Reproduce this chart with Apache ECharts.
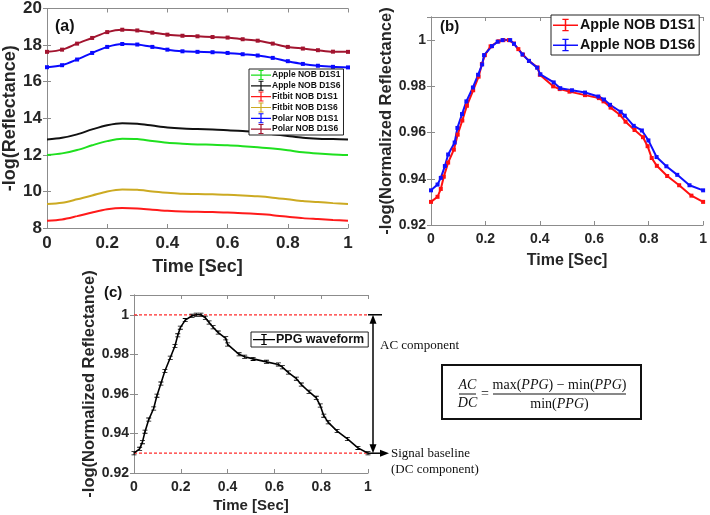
<!DOCTYPE html>
<html><head><meta charset="utf-8">
<script src="https://cdn.jsdelivr.net/npm/echarts/dist/echarts.min.js"></script>
<style>html,body{margin:0;padding:0;background:#fff}#c{width:710px;height:515px}</style>
</head><body><div id="c"></div>
<script>
// ---------- Panel (a) data ----------
var timeA = [0,0.05,0.1,0.15,0.2,0.25,0.3,0.35,0.4,0.45,0.5,0.55,0.6,0.65,0.7,0.75,0.8,0.85,0.9,0.95,1];
var appleD1S1 = [11.99,12.08,12.26,12.52,12.75,12.88,12.86,12.75,12.66,12.61,12.57,12.55,12.52,12.47,12.41,12.34,12.25,12.14,12.07,12.02,11.99];
var appleD1S6 = [12.84,12.93,13.12,13.39,13.62,13.73,13.70,13.60,13.50,13.44,13.41,13.38,13.35,13.30,13.24,13.13,13.03,12.93,12.88,12.86,12.84];
var fitbitD1S1 = [8.40,8.47,8.65,8.85,9.02,9.09,9.07,9.00,8.94,8.90,8.89,8.87,8.85,8.81,8.76,8.70,8.62,8.54,8.49,8.44,8.40];
var fitbitD1S6 = [9.31,9.38,9.57,9.78,10.00,10.11,10.09,10.00,9.93,9.87,9.86,9.84,9.82,9.78,9.73,9.66,9.57,9.47,9.42,9.36,9.31];
var polarD1S1 = [16.79,16.90,17.21,17.57,17.90,18.06,18.03,17.90,17.75,17.66,17.63,17.61,17.57,17.50,17.43,17.30,17.12,16.97,16.87,16.81,16.78];
var polarD1S6 = [17.63,17.75,18.08,18.39,18.71,18.84,18.80,18.68,18.57,18.51,18.48,18.44,18.41,18.32,18.24,18.08,17.90,17.81,17.72,17.64,17.63];

// ---------- Panel (b)/(c) data (normalized) ----------
var timeS1 = [0,0.024,0.036,0.047,0.063,0.084,0.098,0.115,0.132,0.155,0.175,0.187,0.198,0.219,0.248,0.266,0.286,0.305,0.321,0.338,0.360,0.392,0.400,0.449,0.473,0.509,0.566,0.617,0.634,0.660,0.694,0.715,0.748,0.779,0.796,0.811,0.830,0.868,0.912,0.957,1.0];
var normS1 = [0.930,0.9322,0.9356,0.9409,0.947,0.9526,0.9591,0.9652,0.9716,0.9783,0.9842,0.9896,0.9935,0.9973,0.9995,1.0,1.0,0.9985,0.9961,0.9937,0.991,0.9881,0.985,0.980,0.9788,0.9777,0.9762,0.9749,0.9735,0.9708,0.9677,0.9647,0.9611,0.958,0.9541,0.949,0.9456,0.9412,0.9372,0.9327,0.930];
var timeS6 = [0,0.024,0.036,0.051,0.063,0.087,0.097,0.114,0.13,0.154,0.173,0.188,0.195,0.224,0.245,0.263,0.291,0.305,0.336,0.36,0.39,0.402,0.451,0.475,0.518,0.566,0.615,0.636,0.658,0.697,0.712,0.745,0.775,0.799,0.829,0.865,0.905,0.95,1.0];
var normS6 = [0.935,0.9375,0.9404,0.9455,0.9505,0.9557,0.962,0.968,0.9735,0.9795,0.985,0.9895,0.9935,0.9974,0.9993,1.0,1.0,0.9984,0.9938,0.991,0.9881,0.9852,0.9817,0.9792,0.9783,0.9773,0.9756,0.9743,0.972,0.969,0.9673,0.9629,0.9609,0.9566,0.9494,0.9454,0.9417,0.9372,0.935];
var acdcLevels = [1.0, 0.93];

function pairs(t, v){ return t.map(function(x,i){ return [x, v[i]]; }); }

var FONT = 'Liberation Sans, Arial, sans-serif';
var SERIF = 'Liberation Serif, Times New Roman, serif';
var frameColor = '#8c8c8c';
var labelColor = '#262626';
var errIcon = 'path://M0,4.5h20v1.2h-20z M9.4,0h1.2v10h-1.2z M7.5,0h5v1h-5z M7.5,9h5v1h-5z';
var ibeam = 'path://M0,0h6v1h-6z M2.5,0h1v5h-1z M0,4h6v1h-6z';

function xAx(grid, fs, gap, nameFs){
  return {type:'value', gridIndex:grid, min:0, max:1, interval:0.2,
    name:'Time [Sec]', nameLocation:'middle', nameGap:gap,
    nameTextStyle:{fontFamily:FONT, fontWeight:'bold', fontSize:nameFs, color:labelColor},
    axisLine:{show:true, lineStyle:{color:frameColor, width:1}},
    axisTick:{show:true, inside:true, length:4, lineStyle:{color:frameColor}},
    axisLabel:{fontFamily:FONT, fontWeight:'bold', fontSize:fs, color:labelColor, margin:7},
    splitLine:{show:false}};
}
function xTop(grid){
  return {type:'value', gridIndex:grid, position:'top', min:0, max:1, interval:0.2,
    axisLine:{show:true, lineStyle:{color:frameColor, width:1}},
    axisTick:{show:true, inside:true, length:4, lineStyle:{color:frameColor}},
    axisLabel:{show:false}, splitLine:{show:false}};
}
function yAx(grid, mn, mx, iv, name, fs, gap, nameFs, hideMax){
  return {type:'value', gridIndex:grid, min:mn, max:mx, interval:iv,
    name:name, nameLocation:'middle', nameGap:gap,
    nameTextStyle:{fontFamily:FONT, fontWeight:'bold', fontSize:nameFs, color:labelColor},
    axisLine:{show:true, lineStyle:{color:frameColor, width:1}},
    axisTick:{show:true, inside:true, length:4, lineStyle:{color:frameColor}},
    axisLabel:{fontFamily:FONT, fontWeight:'bold', fontSize:fs, color:labelColor, margin:5, showMaxLabel:!hideMax},
    splitLine:{show:false}};
}
function yRight(grid, mn, mx, iv){
  return {type:'value', gridIndex:grid, position:'right', min:mn, max:mx, interval:iv,
    axisLine:{show:true, lineStyle:{color:frameColor, width:1}},
    axisTick:{show:true, inside:true, length:4, lineStyle:{color:frameColor}},
    axisLabel:{show:false}, splitLine:{show:false}};
}

var colA = {g:'#1fe01f', k:'#111111', r:'#ff1a1a', y:'#ccaa22', b:'#0a0aff', m:'#a2142f'};

function lineA(name, data, color, sym){
  return {name:name, type:'line', xAxisIndex:0, yAxisIndex:0, data:pairs(timeA, data),
    smooth:0.3, showSymbol:!!sym, symbol:'rect', symbolSize:4,
    lineStyle:{color:color, width:2}, itemStyle:{color:color}, z:3};
}

var chart = echarts.init(document.getElementById('c'), null, {renderer:'canvas'});
var levelSeries = acdcLevels.map(function(v, i){
  return {name:'level'+i, type:'line', xAxisIndex:2, yAxisIndex:2, data:[[0,v],[1,v]],
    showSymbol:false, silent:true, z:2,
    lineStyle:{color:'#ff2a2a', type:[3,2], width:1.3}, itemStyle:{color:'#ff2a2a'}};
});
var option = {
  animation:false,
  backgroundColor:'#fff',
  grid:[
    {left:47, top:8, width:301, height:220, show:true, borderColor:frameColor, borderWidth:0},
    {left:431, top:17, width:275, height:208, show:true, borderColor:frameColor, borderWidth:0},
    {left:134, top:295, width:234, height:178, show:true, borderColor:frameColor, borderWidth:0}
  ],
  xAxis:[ xAx(0,17,30,18), xAx(1,14,28,16), xAx(2,14,25,15), xTop(0), xTop(1), xTop(2) ],
  yAxis:[
    yAx(0,8,20,2,'-log(Reflectance)',17,25,18,false),
    yAx(1,0.92,1.01,0.02,'-log(Normalized Reflectance)',14,35,16.5,true),
    yAx(2,0.92,1.01,0.02,'-log(Normalized Reflectance)',14,33,16.5,true),
    yRight(0,8,20,2), yRight(1,0.92,1.01,0.02), yRight(2,0.92,1.01,0.02)
  ],
  legend:[
    {left:249, top:69, orient:'vertical', itemWidth:20, itemHeight:10, itemGap:0.8,
     padding:[1,3,1,2], backgroundColor:'#fff', borderColor:'#222', borderWidth:1,
     textStyle:{fontFamily:FONT, fontWeight:'bold', fontSize:8.5, color:'#111', padding:[0,0,0,-4]},
     data:['Apple NOB D1S1','Apple NOB D1S6','Fitbit NOB D1S1','Fitbit NOB D1S6','Polar NOB D1S1','Polar NOB D1S6'].map(function(n){return {name:n, icon:errIcon};})},
    {left:551, top:15, orient:'vertical', itemWidth:25, itemHeight:16, itemGap:6,
     padding:[3,4,3,2], backgroundColor:'#fff', borderColor:'#222', borderWidth:1,
     formatter:function(n){return n.replace(/^b:/,'');},
     textStyle:{fontFamily:FONT, fontWeight:'bold', fontSize:14.3, color:'#111', padding:[0,0,0,-3]},
     data:['b:Apple NOB D1S1','b:Apple NOB D1S6'].map(function(n){return {name:n, icon:errIcon};})},
    {left:251, top:332, orient:'vertical', itemWidth:22, itemHeight:12, itemGap:0,
     padding:[1,4,1,2], backgroundColor:'#fff', borderColor:'#222', borderWidth:1,
     textStyle:{fontFamily:FONT, fontWeight:'bold', fontSize:12.5, color:'#111', padding:[0,0,0,-4]},
     data:[{name:'PPG waveform', icon:errIcon}]}
  ],
  series:[
    lineA('Apple NOB D1S1', appleD1S1, colA.g, false),
    lineA('Apple NOB D1S6', appleD1S6, colA.k, false),
    lineA('Fitbit NOB D1S1', fitbitD1S1, colA.r, false),
    lineA('Fitbit NOB D1S6', fitbitD1S6, colA.y, false),
    lineA('Polar NOB D1S1', polarD1S1, colA.b, true),
    lineA('Polar NOB D1S6', polarD1S6, colA.m, true),
    {name:'b:Apple NOB D1S1', type:'line', xAxisIndex:1, yAxisIndex:1, data:pairs(timeS1, normS1),
     symbol:'rect', symbolSize:4, showSymbol:true,
     lineStyle:{color:'#ff1010', width:2}, itemStyle:{color:'#ff1010'}},
    {name:'b:Apple NOB D1S6', type:'line', xAxisIndex:1, yAxisIndex:1, data:pairs(timeS6, normS6),
     symbol:'rect', symbolSize:4, showSymbol:true,
     lineStyle:{color:'#1010ff', width:2}, itemStyle:{color:'#1010ff'}},
    {name:'PPG waveform', type:'line', xAxisIndex:2, yAxisIndex:2, data:pairs(timeS1, normS1),
     symbol:ibeam, symbolSize:[5,4], showSymbol:true,
     lineStyle:{color:'#000', width:1.6}, itemStyle:{color:'#000'}, z:4}
  ].concat(levelSeries)
};
chart.setOption(option);

// Panel labels + annotations
var pTop = chart.convertToPixel({xAxisIndex:2, yAxisIndex:2}, [1, acdcLevels[0]]);
var pBot = chart.convertToPixel({xAxisIndex:2, yAxisIndex:2}, [1, acdcLevels[1]]);
var ax = pTop[0] + 5;
var g = [];
function txt(x,y,s,opt){ var st = Object.assign({x:x,y:y,text:s,fill:'#111'}, opt||{}); g.push({type:'text', style:st, z:20}); }
txt(55, 19, '(a)', {font:'bold 16px '+FONT, fill:'#111'});
txt(440, 19, '(b)', {font:'bold 15px '+FONT, fill:'#111'});
txt(104, 285, '(c)', {font:'bold 15px '+FONT, fill:'#111'});
g.push({type:'line', shape:{x1:pTop[0], y1:pTop[1], x2:pTop[0]+14, y2:pTop[1]}, style:{stroke:'#000', lineWidth:1.5}, z:20});
g.push({type:'line', shape:{x1:ax, y1:pTop[1]+6, x2:ax, y2:pBot[1]-6}, style:{stroke:'#000', lineWidth:1.5}, z:20});
g.push({type:'polygon', shape:{points:[[ax,pTop[1]],[ax-3.5,pTop[1]+9],[ax+3.5,pTop[1]+9]]}, style:{fill:'#000'}, z:20});
g.push({type:'polygon', shape:{points:[[ax,pBot[1]],[ax-3.5,pBot[1]-9],[ax+3.5,pBot[1]-9]]}, style:{fill:'#000'}, z:20});
g.push({type:'line', shape:{x1:pBot[0], y1:pBot[1], x2:pBot[0]+14, y2:pBot[1]}, style:{stroke:'#000', lineWidth:1.5}, z:20});
g.push({type:'polygon', shape:{points:[[pBot[0]+21,pBot[1]],[pBot[0]+12,pBot[1]-3.5],[pBot[0]+12,pBot[1]+3.5]]}, style:{fill:'#000'}, z:20});
txt(pTop[0]+12, pTop[1]+31, 'AC component', {font:'13px '+SERIF, verticalAlign:'middle'});
txt(pBot[0]+23, pBot[1], 'Signal baseline', {font:'13px '+SERIF, verticalAlign:'middle'});
txt(pBot[0]+23, pBot[1]+16, '(DC component)', {font:'13px '+SERIF, verticalAlign:'middle'});
g.push({type:'rect', shape:{x:442, y:365, width:199, height:54}, style:{fill:'#fff', stroke:'#111', lineWidth:2}, z:19});
txt(467.5, 385, 'AC', {font:'italic 14px '+SERIF, align:'center', verticalAlign:'middle'});
txt(467.5, 403, 'DC', {font:'italic 14px '+SERIF, align:'center', verticalAlign:'middle'});
g.push({type:'line', shape:{x1:459, y1:394, x2:476, y2:394}, style:{stroke:'#111', lineWidth:1}, z:20});
txt(485, 394, '=', {font:'14px '+SERIF, align:'center', verticalAlign:'middle'});
g.push({type:'line', shape:{x1:493, y1:394, x2:626, y2:394}, style:{stroke:'#111', lineWidth:1}, z:20});
g.push({type:'text', z:20, style:{x:559.5, y:385, align:'center', verticalAlign:'middle',
  text:'{n|max(}{i|PPG}{n|) − min(}{i|PPG}{n|)}',
  rich:{n:{fontFamily:SERIF, fontSize:14, fill:'#111'}, i:{fontFamily:SERIF, fontSize:14, fontStyle:'italic', fill:'#111'}}}});
g.push({type:'text', z:20, style:{x:559.5, y:404, align:'center', verticalAlign:'middle',
  text:'{n|min(}{i|PPG}{n|)}',
  rich:{n:{fontFamily:SERIF, fontSize:14, fill:'#111'}, i:{fontFamily:SERIF, fontSize:14, fontStyle:'italic', fill:'#111'}}}});
chart.setOption({graphic:g});
</script></body></html>
